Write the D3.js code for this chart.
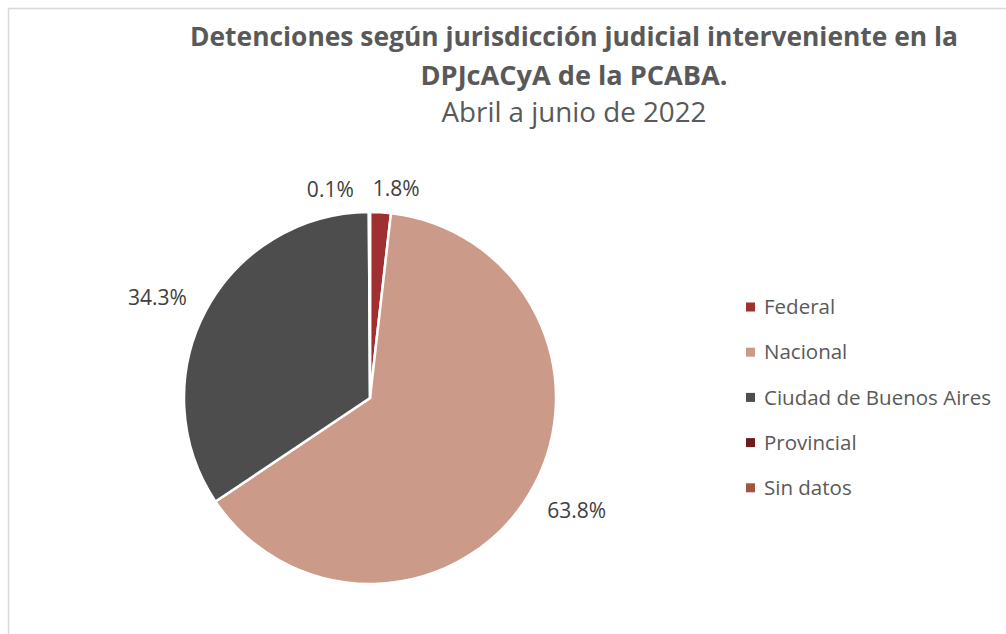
<!DOCTYPE html>
<html>
<head>
<meta charset="utf-8">
<script src="https://cdn.jsdelivr.net/npm/d3@7"></script>
<style>
  body { margin: 0; background: #fff; }
  text { font-family: "Open Sans", "DejaVu Sans", sans-serif; }
</style>
</head>
<body>
<svg id="pie-chart"></svg>
<script>
// data (percent of detentions)
var categories = ["Federal", "Nacional", "Ciudad de Buenos Aires", "Provincial", "Sin datos"];
var shares = [1.8, 63.8, 34.3, 0.1, 0.0];
var colors = ["#a0302f", "#cc9a88", "#4d4d4d", "#6b1d1d", "#a0573f"];
var titleLines = ["Detenciones según jurisdicción judicial interveniente en la", "DPJcACyA de la PCABA."];
var subtitle = "Abril a junio de 2022";

function drawGraphic() {
  var width = 1006, height = 634;
  var cx = 370, cy = 398, radius = 186;

  var svg = d3.select("#pie-chart")
    .attr("width", width)
    .attr("height", height);

  // chart area border
  svg.append("rect")
    .attr("x", 8.5).attr("y", 8.5)
    .attr("width", width + 20).attr("height", height + 20)
    .attr("fill", "none")
    .attr("stroke", "#d9d9d9")
    .attr("stroke-width", 1.5);

  // titles
  svg.append("text")
    .attr("x", 574).attr("y", 46)
    .attr("text-anchor", "middle")
    .attr("font-size", 27).attr("font-weight", "bold")
    .attr("fill", "#595959")
    .attr("textLength", 768).attr("lengthAdjust", "spacingAndGlyphs")
    .text(titleLines[0]);

  svg.append("text")
    .attr("x", 574).attr("y", 85)
    .attr("text-anchor", "middle")
    .attr("font-size", 27).attr("font-weight", "bold")
    .attr("fill", "#595959")
    .attr("textLength", 307).attr("lengthAdjust", "spacingAndGlyphs")
    .text(titleLines[1]);

  svg.append("text")
    .attr("x", 574).attr("y", 122)
    .attr("text-anchor", "middle")
    .attr("font-size", 27)
    .attr("fill", "#595959")
    .attr("textLength", 265).attr("lengthAdjust", "spacingAndGlyphs")
    .text(subtitle);

  var data = categories.map(function(c, i) { return {name: c, value: shares[i], color: colors[i]}; });

  var pie = d3.pie()
    .sort(null)
    .value(d => d.value);

  var arc = d3.arc()
    .innerRadius(0)
    .outerRadius(radius);

  var arcs = pie(data);

  var g = svg.append("g")
    .attr("transform", "translate(" + cx + "," + cy + ")");

  g.selectAll("path")
    .data(arcs.filter(d => d.data.value > 0))
    .enter().append("path")
    .attr("d", arc)
    .attr("fill", d => d.data.color)
    .attr("stroke", "#fff")
    .attr("stroke-width", 2.5)
    .attr("stroke-linejoin", "miter");

  // data labels, outside end
  var bigLabel = d3.arc().innerRadius(236).outerRadius(236);
  var smallLabel = d3.arc().innerRadius(214).outerRadius(214);
  var nudge = {
    "Federal": [14, 4],
    "Nacional": [5, -10],
    "Ciudad de Buenos Aires": [-4, 10],
    "Provincial": [-39, 6]
  };

  g.selectAll("text.label")
    .data(arcs.filter(d => d.data.value > 0))
    .enter().append("text")
    .attr("class", "label")
    .attr("transform", function(d) {
      var p = (d.data.value < 5 ? smallLabel : bigLabel).centroid(d);
      var n = nudge[d.data.name] || [0, 0];
      return "translate(" + (p[0] + n[0]) + "," + (p[1] + n[1]) + ")";
    })
    .attr("text-anchor", "middle")
    .attr("dy", "0.35em")
    .attr("font-size", 21)
    .attr("fill", "#404040")
    .text(d => d3.format(".1f")(d.data.value) + "%");

  // legend
  var legend = svg.append("g")
    .attr("transform", "translate(746,307)");

  var item = legend.selectAll("g")
    .data(data)
    .enter().append("g")
    .attr("transform", (d, i) => "translate(0," + (i * 45.2) + ")");

  item.append("rect")
    .attr("x", 0).attr("y", -4.5)
    .attr("width", 9).attr("height", 9)
    .attr("fill", d => d.color);

  item.append("text")
    .attr("x", 18)
    .attr("dy", "0.35em")
    .attr("font-size", 20.5)
    .attr("fill", "#595959")
    .text(d => d.name);
}

drawGraphic();
</script>
</body>
</html>
